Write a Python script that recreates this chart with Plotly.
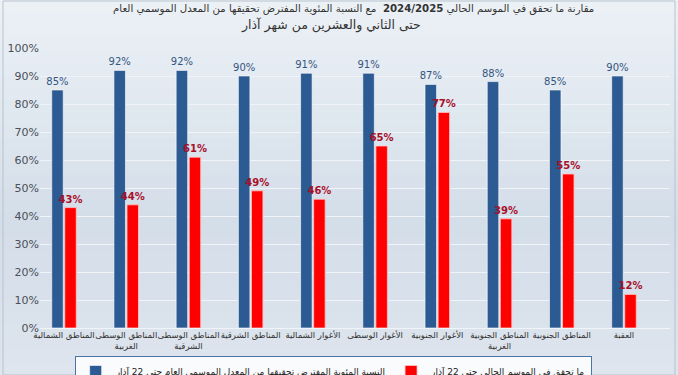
import plotly.graph_objects as go

categories = [
    "المناطق الشمالية",
    "المناطق الوسطى<br>الغربية",
    "المناطق الوسطى<br>الشرقية",
    "المناطق الشرقية",
    "الأغوار الشمالية",
    "الأغوار الوسطى",
    "الأغوار الجنوبية",
    "المناطق الجنوبية<br>الغربية",
    "المناطق الجنوبية",
    "العقبة",
]
expected_pct = [85, 92, 92, 90, 91, 91, 87, 88, 85, 90]
achieved_pct = [43, 44, 61, 49, 46, 65, 77, 39, 55, 12]
y_ticks = [0, 10, 20, 30, 40, 50, 60, 70, 80, 90, 100]
y_tick_labels = [f"{v}%" for v in y_ticks]
series_names = [
    "النسبة المئوية المفترض تحقيقها من المعدل الموسمي العام حتى 22 آذار",
    "ما تحقق في الموسم الحالي حتى 22 آذار",
]
title_line1 = "مقارنة ما تحقق في الموسم الحالي <b>2024/2025</b>  مع النسبة المئوية المفترض تحقيقها من المعدل الموسمي العام"
title_line2 = "حتى الثاني والعشرين من شهر آذار"

W, H = 678, 375
ML, MR, MT, MB = 40, 8, 48, 47
PW, PH = W - ML - MR, H - MT - MB

FONT = "DejaVu Sans, Arial, sans-serif"

fig = go.Figure()
fig.add_trace(go.Bar(
    x=categories, y=expected_pct, name=series_names[0],
    marker=dict(color="#2c5a92", line=dict(color="rgba(255,255,255,0.6)", width=1)),
    text=[f"{v}%" for v in expected_pct], textposition="outside",
    textfont=dict(color="#34557f", size=10, family=FONT),
    constraintext="none", cliponaxis=False,
))
fig.add_trace(go.Bar(
    x=categories, y=achieved_pct, name=series_names[1],
    marker=dict(color="#ff0000", line=dict(color="rgba(255,200,200,0.8)", width=1)),
    text=[f"<b>{v}%</b>" for v in achieved_pct], textposition="outside",
    textfont=dict(color="#a8102a", size=10, family=FONT),
    constraintext="none", cliponaxis=False,
))

# background gradient bands (full figure)
shapes = []
n = 30
x0p, x1p = -ML / PW, (PW + MR) / PW
top_c = (236, 241, 246)
mid_c = (212, 222, 233)
bot_c = (222, 229, 238)
for i in range(n):
    t = i / (n - 1)
    if t < 0.6:
        u = t / 0.6
        c = tuple(int(top_c[k] + (mid_c[k] - top_c[k]) * u) for k in range(3))
    else:
        u = (t - 0.6) / 0.4
        c = tuple(int(mid_c[k] + (bot_c[k] - mid_c[k]) * u) for k in range(3))
    shapes.append(dict(type="rect", xref="paper", yref="paper", x0=x0p, x1=x1p,
                       y0=(H - i * H / n - MB) / PH,
                       y1=(H - (i + 1) * H / n - MB) / PH - 0.002,
                       fillcolor=f"rgb{c}", line=dict(width=0), layer="below"))
# outer frame
shapes.append(dict(type="rect", xref="paper", yref="paper",
                   x0=(3 - ML) / PW, x1=(675 - ML) / PW,
                   y0=-MB / PH, y1=(PH + MT - 1) / PH,
                   line=dict(color="#b8c2cc", width=1), fillcolor="rgba(0,0,0,0)", layer="below"))

fig.update_layout(
    width=W, height=H,
    margin=dict(l=ML, r=MR, t=MT, b=MB, autoexpand=False),
    paper_bgcolor="#dfe6ee",
    plot_bgcolor="rgba(0,0,0,0)",
    barmode="group", bargap=0.58, bargroupgap=0.12,
    font=dict(family=FONT, color="#333333"),
    shapes=shapes,
    showlegend=True,
    legend=dict(orientation="h", x=0.055, xanchor="left", y=-0.1, yanchor="top",
                bgcolor="rgba(255,255,255,0.85)", bordercolor="#4a74a8", borderwidth=1,
                font=dict(size=9, color="#222222", family=FONT)),
    annotations=[
        dict(text=title_line1, xref="paper", yref="paper",
             x=(353 - ML) / PW, y=(H - MB - 9) / PH, xanchor="center", yanchor="middle",
             showarrow=False, font=dict(size=10.2, color="#333333", family=FONT)),
        dict(text=title_line2, xref="paper", yref="paper",
             x=(331 - ML) / PW, y=(H - MB - 25) / PH, xanchor="center", yanchor="middle",
             showarrow=False, font=dict(size=12.5, color="#333333", family=FONT)),
    ],
)

unit = 62.22
a = -24 / unit
fig.update_xaxes(range=[a, a + PW / unit], showgrid=False, zeroline=False,
                 showline=False, ticks="", tickangle=0,
                 tickfont=dict(size=8.5, color="#333333", family=FONT))
fig.update_yaxes(range=[0, 100], tickmode="array", tickvals=y_ticks, ticktext=y_tick_labels,
                 showgrid=True, gridcolor="#f0f3f7", gridwidth=1,
                 zeroline=True, zerolinecolor="#f0f3f7", zerolinewidth=1,
                 showline=False, ticks="",
                 tickfont=dict(size=11, color="#4a4f58", family=FONT))

fig.write_html("out.html", config={"displayModeBar": False},
               post_script="document.body.style.margin='0';document.body.style.overflow='hidden';")
